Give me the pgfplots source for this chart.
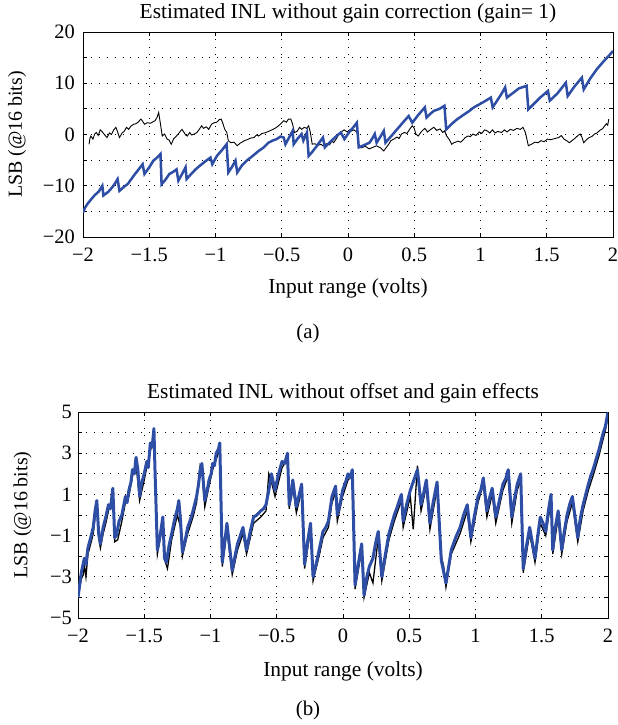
\documentclass[border=0pt]{standalone}
\usepackage{fontspec}
\setmainfont{Liberation Serif}
\usepackage{pgfplots}
\pgfplotsset{compat=1.18}
\definecolor{inlblue}{RGB}{46,78,166}
\pgfplotsset{
  inlstyle/.style={
    scale only axis,
    width=530bp,
    xmin=-2, xmax=2,
    xtick={-2,-1.5,...,2},
    xticklabels={−2,−1.5,−1,−0.5,0,0.5,1,1.5,2},
    tick align=inside,
    major tick length=4bp,
    tick style={black, line width=0.8bp},
    axis line style={black, line width=0.9bp},
    grid=major,
    major grid style={black, line width=0.8bp, dash pattern=on 0.9bp off 7bp},
    font=\fontsize{20.5}{24}\selectfont,
    ticklabel style={font=\fontsize{20.5}{24}\selectfont},
    xticklabel style={anchor=base, yshift=-24bp, inner sep=0pt},
    title style={at={(axis description cs:0.5,1)}, anchor=base, yshift=8bp, inner sep=0pt, font=\fontsize{21.5}{24}\selectfont},
    xlabel style={font=\fontsize{21.5}{24}\selectfont},
    ylabel style={font=\fontsize{20}{24}\selectfont},
    xlabel={Input range (volts)},
    ylabel={LSB (@16 bits)},
  }
}
\begin{document}
\begin{tikzpicture}
\useasboundingbox (0,0) rectangle (618bp,-725bp);
% ---------------- (a) ----------------
\begin{axis}[inlstyle,
  at={(83bp,-32bp)}, anchor=north west,
  height=205bp,
  ymin=-20, ymax=20,
  ytick={-20,-15,...,20},
  yticklabels={−20,,−10,,0,,10,,20},
  yticklabel style={anchor=east, inner sep=0pt, xshift=-8bp},
  title={Estimated INL without gain correction (gain= 1)},
  xlabel style={at={(axis description cs:0.5,-0.278)}, anchor=base, inner sep=0pt},
  ylabel style={at={(axis description cs:-0.1245,0.5)}, anchor=center, inner sep=0pt},
]
\addplot[black, line width=0.9bp] coordinates {
(-1.954,-1.9) (-1.948,-0.8) (-1.941,-0.3) (-1.925,-0.9) (-1.912,0.1) (-1.900,0.4) (-1.885,-0.2) (-1.870,0.9) (-1.860,0.7)
(-1.845,0.2) (-1.832,-0.2) (-1.819,-0.6) (-1.800,0.3) (-1.785,0.0) (-1.768,0.9) (-1.752,1.4) (-1.740,0.6) (-1.725,-0.6)
(-1.705,0.3) (-1.690,0.6) (-1.671,1.4) (-1.655,1.0) (-1.640,1.6) (-1.617,2.0) (-1.600,2.1) (-1.585,2.4) (-1.563,3.0)
(-1.550,2.6) (-1.536,2.0) (-1.515,2.3) (-1.490,2.2) (-1.470,2.5) (-1.456,2.7) (-1.440,3.4) (-1.429,4.3) (-1.418,2.5)
(-1.402,-0.3) (-1.385,0.1) (-1.365,-0.9) (-1.350,-1.1) (-1.334,-1.9) (-1.315,-0.8) (-1.295,-0.3) (-1.275,0.3) (-1.253,1.0)
(-1.240,0.5) (-1.225,-0.1) (-1.213,-0.3) (-1.195,0.4) (-1.180,-0.1) (-1.159,0.1) (-1.140,0.4) (-1.120,1.1) (-1.105,1.7)
(-1.090,1.2) (-1.070,1.5) (-1.051,1.0) (-1.030,2.0) (-1.010,2.3) (-0.990,2.4) (-0.972,2.9) (-0.957,3.0) (-0.945,2.2)
(-0.930,1.0) (-0.915,0.4) (-0.903,-1.2) (-0.885,-1.6) (-0.860,-1.5) (-0.836,-2.2) (-0.815,-1.7) (-0.800,-1.5) (-0.782,-1.2)
(-0.760,-1.0) (-0.735,-0.7) (-0.710,-0.6) (-0.690,-0.1) (-0.674,-0.3) (-0.650,0.2) (-0.630,0.3) (-0.600,0.6) (-0.566,1.0)
(-0.545,1.3) (-0.520,1.8) (-0.500,2.3) (-0.485,2.7) (-0.465,2.4) (-0.450,3.0) (-0.431,3.0) (-0.418,2.0) (-0.404,0.4)
(-0.385,0.6) (-0.365,1.4) (-0.350,1.0) (-0.330,1.4) (-0.312,1.2) (-0.297,1.7) (-0.285,0.5) (-0.270,-1.9) (-0.250,-1.8)
(-0.225,-2.1) (-0.205,-1.9) (-0.189,-2.2) (-0.165,-1.8) (-0.140,-2.0) (-0.120,-1.3) (-0.108,-1.6) (-0.085,-0.7) (-0.070,0.1)
(-0.054,0.4) (-0.030,0.9) (-0.005,0.5) (0.010,0.9) (0.027,0.7) (0.045,0.9) (0.060,0.6) (0.070,0.3) (0.081,-2.5) (0.100,-2.6)
(0.130,-2.3) (0.160,-2.8) (0.189,-2.5) (0.215,-2.2) (0.245,-2.6) (0.270,-3.2) (0.290,-2.5) (0.310,-1.8) (0.323,-1.2)
(0.345,-0.9) (0.370,-0.5) (0.385,-0.8) (0.404,0.1) (0.425,0.4) (0.445,0.2) (0.470,1.2) (0.485,1.7) (0.500,1.2) (0.512,0.1)
(0.530,-0.3) (0.555,0.6) (0.580,1.2) (0.600,0.5) (0.625,1.0) (0.647,1.4) (0.670,0.8) (0.695,1.1) (0.715,0.4) (0.728,0.7)
(0.745,-0.3) (0.765,-1.0) (0.782,-1.9) (0.800,-1.6) (0.830,-1.3) (0.850,-1.5) (0.863,-1.2) (0.885,-0.6) (0.905,-0.3)
(0.925,-0.4) (0.943,0.1) (0.965,-0.2) (0.990,0.5) (1.010,0.2) (1.030,0.9) (1.051,0.7) (1.070,0.3) (1.090,0.9) (1.110,0.3)
(1.130,0.6) (1.159,0.4) (1.180,0.9) (1.200,0.5) (1.225,1.0) (1.250,0.8) (1.275,1.2) (1.300,1.0) (1.321,1.4) (1.340,0.3)
(1.361,-2.2) (1.385,-1.9) (1.410,-1.5) (1.435,-1.6) (1.456,-1.2) (1.480,-1.4) (1.505,-0.9) (1.530,-1.0) (1.560,-0.8)
(1.590,-0.6) (1.610,-0.2) (1.630,-0.9) (1.650,-1.2) (1.671,-1.6) (1.690,-1.2) (1.715,-0.7) (1.735,-0.2) (1.752,0.1)
(1.765,-0.5) (1.779,-1.6) (1.800,-1.0) (1.820,-0.6) (1.840,-0.4) (1.860,0.1) (1.880,0.3) (1.900,0.8) (1.920,1.1) (1.935,1.6)
(1.950,2.1) (1.960,1.8) (1.968,3.0)
};
\addplot[inlblue, line width=2.5bp] coordinates {
(-2.000,-15.2) (-1.985,-14.3) (-1.968,-13.6) (-1.940,-12.7) (-1.914,-11.9) (-1.880,-11.1) (-1.854,-10.0) (-1.846,-11.9)
(-1.810,-11.2) (-1.779,-10.3) (-1.760,-9.6) (-1.739,-8.7) (-1.725,-11.0) (-1.690,-10.2) (-1.660,-9.6) (-1.644,-9.0)
(-1.610,-7.8) (-1.580,-6.8) (-1.550,-5.8) (-1.536,-7.7) (-1.500,-6.4) (-1.469,-5.1) (-1.440,-4.5) (-1.415,-3.8)
(-1.407,-9.7) (-1.380,-8.9) (-1.348,-7.7) (-1.320,-7.3) (-1.294,-6.8) (-1.280,-9.0) (-1.250,-7.6) (-1.226,-6.4)
(-1.218,-8.7) (-1.180,-7.6) (-1.150,-6.8) (-1.119,-6.1) (-1.080,-5.3) (-1.038,-4.5) (-1.024,-5.8) (-0.990,-4.2)
(-0.950,-3.0) (-0.916,-1.9) (-0.903,-7.4) (-0.875,-6.3) (-0.849,-5.1) (-0.836,-7.4) (-0.800,-6.0) (-0.760,-5.0)
(-0.720,-4.2) (-0.674,-3.2) (-0.640,-2.6) (-0.600,-1.6) (-0.570,-1.2) (-0.539,-0.9) (-0.510,-0.4) (-0.485,-0.6)
(-0.472,-1.9) (-0.445,-0.6) (-0.418,0.7) (-0.410,-1.9) (-0.380,-0.8) (-0.350,0.1) (-0.337,-1.2) (-0.310,0.4)
(-0.297,-4.2) (-0.270,-3.4) (-0.243,-2.5) (-0.215,-1.5) (-0.189,-0.6) (-0.175,-2.5) (-0.140,-1.6) (-0.100,-0.6)
(-0.054,0.4) (-0.027,-0.9) (0.010,0.5) (0.040,1.4) (0.067,2.3) (0.081,-2.5) (0.120,-2.1) (0.162,-1.6) (0.185,-0.7)
(0.202,0.1) (0.216,-1.6) (0.245,-0.4) (0.270,0.7) (0.283,-1.6) (0.320,-0.5) (0.360,0.7) (0.400,1.9) (0.430,2.8)
(0.458,3.6) (0.485,2.3) (0.530,3.8) (0.580,5.3) (0.593,3.3) (0.620,4.0) (0.647,4.6) (0.690,5.0) (0.728,5.6) (0.741,1.0)
(0.780,2.0) (0.820,2.9) (0.870,3.8) (0.916,4.6) (0.950,5.3) (1.000,6.0) (1.040,6.6) (1.078,7.2) (1.092,5.3) (1.130,6.8)
(1.160,8.0) (1.186,9.2) (1.199,7.2) (1.240,8.0) (1.290,9.0) (1.348,9.5) (1.361,4.9) (1.400,5.9) (1.450,7.2) (1.509,8.5)
(1.523,6.6) (1.580,8.0) (1.644,10.1) (1.658,7.5) (1.710,9.4) (1.765,11.1) (1.779,8.8) (1.830,11.0) (1.880,12.8)
(1.930,14.3) (1.970,15.4) (2.000,16.3)
};
\end{axis}
\node[font=\fontsize{21}{24}\selectfont, anchor=center] at (308bp,-333bp) {(a)};
% ---------------- (b) ----------------
\begin{axis}[inlstyle,
  at={(78bp,-412bp)}, anchor=north west,
  height=206bp,
  ymin=-5, ymax=5,
  ytick={-5,-4,...,5},
  yticklabels={−5,,−3,,−1,,1,,3,,5},
  yticklabel style={anchor=east, inner sep=0pt, xshift=-6bp},
  title={Estimated INL without offset and gain effects},
  xlabel style={at={(axis description cs:0.5,-0.2816)}, anchor=base, inner sep=0pt},
  ylabel style={at={(axis description cs:-0.1047,0.5)}, anchor=center, inner sep=0pt},
]
\addplot[black, line width=1.3bp] coordinates {
(-2.000,-4.0) (-1.975,-3.1) (-1.960,-2.9) (-1.952,-2.4) (-1.940,-3.0) (-1.925,-1.9) (-1.900,-1.3) (-1.885,-0.9)
(-1.871,-0.1) (-1.858,0.4) (-1.844,-1.1) (-1.831,-1.6) (-1.810,-0.9) (-1.790,-0.4) (-1.770,0.2) (-1.737,1.0)
(-1.723,-1.3) (-1.700,-1.2) (-1.669,-0.3) (-1.642,0.6) (-1.616,0.9) (-1.589,1.9) (-1.562,2.5) (-1.535,0.7)
(-1.500,1.7) (-1.481,2.3) (-1.454,3.1) (-1.427,3.9) (-1.419,2.0) (-1.401,-1.9) (-1.360,-0.4) (-1.340,-2.3)
(-1.325,-2.6) (-1.293,-1.2) (-1.250,0.0) (-1.226,-0.6) (-1.212,-2.0) (-1.172,-0.9) (-1.132,-0.1) (-1.105,0.6)
(-1.078,2.4) (-1.065,2.2) (-1.043,0.4) (-1.011,1.4) (-0.984,2.2) (-0.957,2.7) (-0.930,3.2) (-0.911,-2.5)
(-0.876,-0.7) (-0.836,-2.9) (-0.796,-1.7) (-0.755,-0.9) (-0.728,-1.9) (-0.675,-0.4) (-0.621,-0.1) (-0.581,0.2)
(-0.560,2.0) (-0.540,1.6) (-0.513,0.9) (-0.460,2.3) (-0.419,2.7) (-0.406,0.3) (-0.379,1.4) (-0.352,0.1)
(-0.312,1.2) (-0.290,-2.6) (-0.245,-0.7) (-0.226,-3.2) (-0.177,-1.9) (-0.151,-1.1) (-0.110,-0.6) (-0.083,0.6)
(-0.056,1.1) (-0.043,-0.3) (-0.003,0.9) (0.038,1.7) (0.070,1.9) (0.091,-3.6) (0.141,-1.7) (0.159,-4.0)
(0.199,-2.8) (0.226,-3.3) (0.266,-1.1) (0.293,-3.2) (0.347,-1.2) (0.387,-0.3) (0.441,0.7) (0.454,-0.6)
(0.508,0.9) (0.530,-0.7) (0.562,2.4) (0.589,0.2) (0.629,1.4) (0.656,-0.7) (0.710,1.3) (0.742,-2.0) (0.760,-2.5)
(0.777,-3.5) (0.817,-1.9) (0.884,-0.9) (0.938,0.2) (0.965,-1.3) (1.019,0.6) (1.059,1.5) (1.086,-0.1)
(1.126,1.0) (1.153,-0.4) (1.207,1.2) (1.247,1.9) (1.274,-0.4) (1.315,1.2) (1.341,1.7) (1.360,-2.8) (1.409,-0.9)
(1.449,-2.3) (1.489,-0.4) (1.530,-1.0) (1.570,0.7) (1.583,-1.9) (1.624,-0.1) (1.651,-1.9) (1.691,-0.3)
(1.731,0.6) (1.772,-1.3) (1.812,0.2) (1.852,1.2) (1.892,2.0) (1.933,2.9) (1.960,3.6) (1.980,4.1) (2.000,4.8)
};
\addplot[inlblue, line width=3bp, line join=round] coordinates {
(-2.000,-4.0) (-1.975,-2.8) (-1.952,-2.1) (-1.940,-2.4) (-1.925,-1.6) (-1.900,-1.0) (-1.885,-0.6) (-1.871,0.2)
(-1.858,0.7) (-1.844,-0.9) (-1.831,-1.4) (-1.810,-0.6) (-1.790,-0.1) (-1.770,0.5) (-1.755,0.3) (-1.737,1.3)
(-1.723,-1.1) (-1.710,-1.0) (-1.690,-0.3) (-1.669,0.0) (-1.642,0.9) (-1.630,0.6) (-1.616,1.2) (-1.600,1.6)
(-1.589,2.2) (-1.575,2.0) (-1.562,2.8) (-1.548,2.2) (-1.535,0.9) (-1.522,1.5) (-1.500,2.0) (-1.481,2.6)
(-1.470,2.3) (-1.454,3.5) (-1.440,3.3) (-1.427,4.2) (-1.419,2.2) (-1.401,-1.7) (-1.380,-1.0) (-1.360,-0.1)
(-1.347,-2.1) (-1.333,-2.3) (-1.313,-1.5) (-1.293,-0.9) (-1.270,-0.2) (-1.250,0.3) (-1.239,0.7) (-1.226,-0.3)
(-1.212,-1.8) (-1.190,-1.2) (-1.172,-0.6) (-1.150,-0.2) (-1.132,0.2) (-1.105,0.9) (-1.090,1.5) (-1.078,2.2)
(-1.065,2.5) (-1.043,0.7) (-1.025,1.2) (-1.011,1.7) (-0.995,2.0) (-0.984,2.5) (-0.970,2.4) (-0.957,3.0)
(-0.940,3.2) (-0.930,3.5) (-0.911,-2.3) (-0.890,-1.2) (-0.876,-0.4) (-0.855,-1.6) (-0.836,-2.7) (-0.815,-2.0)
(-0.796,-1.4) (-0.775,-1.0) (-0.755,-0.6) (-0.728,-1.7) (-0.700,-0.8) (-0.675,-0.1) (-0.650,0.0) (-0.621,0.2)
(-0.600,0.3) (-0.581,0.5) (-0.560,1.2) (-0.540,2.0) (-0.513,1.2) (-0.490,1.9) (-0.460,2.6) (-0.440,2.5)
(-0.419,3.0) (-0.406,0.5) (-0.390,1.0) (-0.379,1.7) (-0.365,1.0) (-0.352,0.4) (-0.330,1.0) (-0.312,1.5)
(-0.290,-2.4) (-0.265,-1.2) (-0.245,-0.4) (-0.226,-3.0) (-0.200,-2.3) (-0.177,-1.6) (-0.151,-0.8) (-0.130,-0.6)
(-0.110,-0.3) (-0.083,0.9) (-0.056,1.4) (-0.043,0.0) (-0.020,0.6) (-0.003,1.2) (0.020,1.6) (0.038,2.0)
(0.055,1.8) (0.070,2.2) (0.091,-3.4) (0.115,-2.4) (0.141,-1.4) (0.159,-3.9) (0.180,-3.0) (0.199,-2.5)
(0.226,-2.1) (0.245,-1.4) (0.266,-0.8) (0.293,-3.0) (0.320,-1.9) (0.347,-0.9) (0.365,-0.5) (0.387,0.0)
(0.410,0.4) (0.441,1.0) (0.454,-0.3) (0.480,0.5) (0.508,1.2) (0.535,1.7) (0.562,2.2) (0.589,0.5) (0.610,1.1)
(0.629,1.7) (0.656,-0.4) (0.680,0.6) (0.710,1.6) (0.742,-2.2) (0.777,-3.3) (0.800,-2.4) (0.817,-1.7)
(0.850,-1.1) (0.884,-0.6) (0.910,0.0) (0.938,0.5) (0.965,-1.1) (0.990,-0.1) (1.019,0.9) (1.040,1.2)
(1.059,1.8) (1.086,0.2) (1.105,0.8) (1.126,1.3) (1.153,-0.1) (1.180,0.7) (1.207,1.5) (1.230,1.8) (1.247,2.2)
(1.274,-0.1) (1.295,0.8) (1.315,1.5) (1.341,2.0) (1.360,-2.6) (1.385,-1.5) (1.409,-0.6) (1.449,-2.1)
(1.470,-1.0) (1.489,-0.1) (1.510,-0.4) (1.530,-0.8) (1.550,0.2) (1.570,1.0) (1.583,-1.7) (1.600,-0.7)
(1.624,0.2) (1.651,-1.7) (1.670,-0.8) (1.691,0.0) (1.710,0.5) (1.731,0.9) (1.772,-1.1) (1.790,-0.2)
(1.812,0.5) (1.852,1.5) (1.870,1.9) (1.892,2.3) (1.910,2.7) (1.933,3.2) (1.960,3.9) (1.980,4.3) (2.000,5.0)
};
\end{axis}
\node[font=\fontsize{21}{24}\selectfont, anchor=center] at (308bp,-710bp) {(b)};
\end{tikzpicture}
\end{document}
